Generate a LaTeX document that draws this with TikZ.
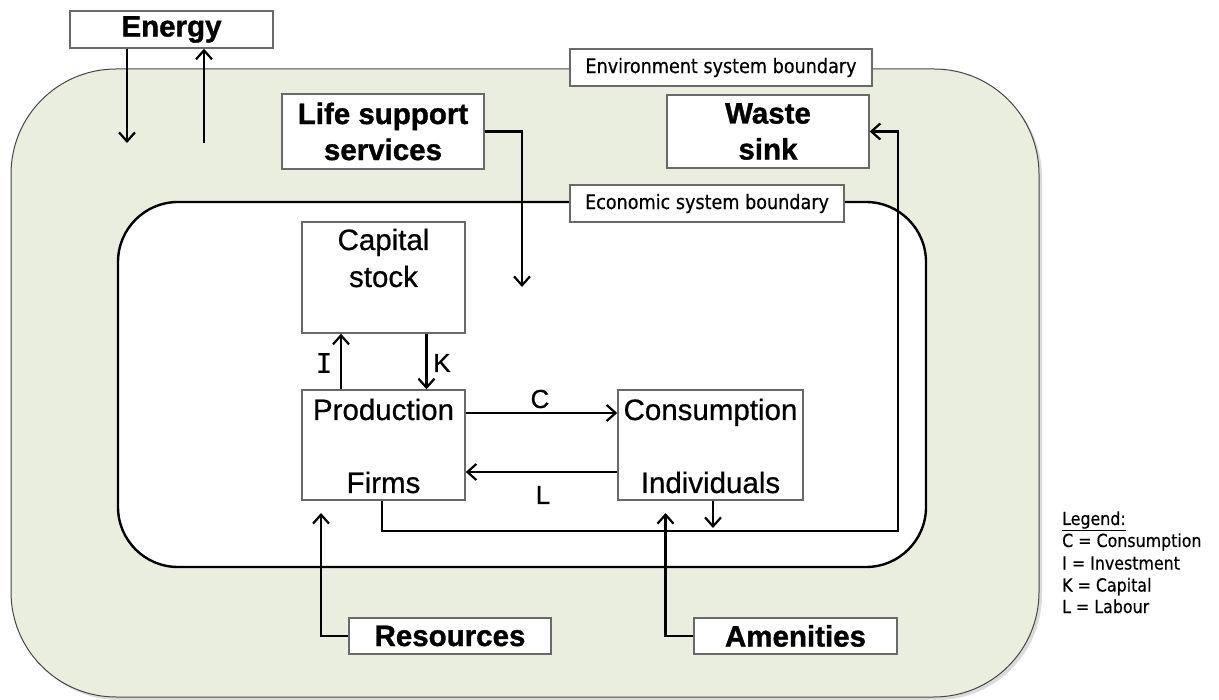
\documentclass[tikz,border=0pt]{standalone}
\usepackage{fontspec}
\setmainfont{Liberation Sans}[UprightFeatures={FakeBold=0.6}, BoldFeatures={FakeBold=1.2}]
\newfontfamily\tahomalike{DejaVu Sans}[FakeStretch=0.88, FakeBold=0.5]
\newfontfamily\monoi{DejaVu Sans Mono}[FakeBold=0.6]
\usetikzlibrary{arrows.meta}

\definecolor{envfill}{RGB}{234,238,222}
\definecolor{boxline}{RGB}{105,105,105}
\definecolor{envline}{RGB}{70,70,70}

\tikzset{
  big/.style={font=\fontsize{29.5}{36}\selectfont},
  bigb/.style={font=\bfseries\fontsize{29.5}{36}\selectfont, align=center},
  tagbox/.style={draw=boxline, line width=1.4pt, fill=white, inner sep=0pt},
  sectbox/.style={tagbox, font=\tahomalike\fontsize{20}{24}\selectfont},
  flow/.style={draw=black, line width=2.2pt, -{Straight Barb[length=9pt,width=16pt]}},
  txt/.style={inner sep=0pt, anchor=base},
  flowlbl/.style={inner sep=0pt, font=\fontsize{26}{30}\selectfont},
  lg/.style={inner sep=0pt, anchor=base west, font=\tahomalike\fontsize{18}{22}\selectfont}
}

\begin{document}
\begin{tikzpicture}[x=1pt, y=-1pt]
\useasboundingbox (0,0) rectangle (1219,700);

% environment system (outer) and economic system (inner)
\fill[black!14, rounded corners=105pt] (14,72) rectangle (1042,700);
\draw[envline, fill=envfill, line width=1pt, rounded corners=105pt] (11,69) rectangle (1039,697);
\draw[black, fill=white, line width=2.4pt, rounded corners=60pt] (118,202) rectangle (926,567);

% boundary tags
\node[sectbox, minimum width=302pt, minimum height=37pt] (envtag) at (721,67.5) {Environment system boundary};
\node[sectbox, minimum width=274pt, minimum height=37pt] (ecotag) at (707,203.5) {Economic system boundary};

% outer boxes
\node[tagbox, bigb, minimum width=203pt, minimum height=37pt] (energy) at (171.5,29.5) {Energy};
\node[tagbox, bigb, minimum width=202pt, minimum height=75pt] (life) at (383,131.5) {Life support\\services};
\node[tagbox, bigb, minimum width=202pt, minimum height=73pt] (waste) at (768,131.5) {Waste\\sink};
\node[tagbox, bigb, minimum width=202pt, minimum height=36pt] (res) at (450,636) {Resources};
\node[tagbox, bigb, minimum width=203pt, minimum height=36pt] (amen) at (795.5,636) {Amenities};

% economy boxes
\node[tagbox, minimum width=163pt, minimum height=111pt] (cap) at (383.5,277.5) {};
\node[txt, big] (capa) at (383.5,250) {Capital};
\node[txt, big] (capb) at (383.5,287) {stock};

\node[tagbox, minimum width=163pt, minimum height=110pt] (prod) at (383.5,445) {};
\node[txt, big] (proda) at (383.5,420) {Production};
\node[txt, big] (prodb) at (383.5,493) {Firms};

\node[tagbox, minimum width=185pt, minimum height=110pt] (cons) at (710.5,445) {};
\node[txt, big] (consa) at (710.5,420) {Consumption};
\node[txt, big] (consb) at (710.5,493) {Individuals};

% connector anchors
\coordinate (ein) at (127,143);
\coordinate (eout) at (204,143);
\coordinate (lifein) at (522,287);
\coordinate (ix) at (341,0);
\coordinate (kx) at (426.5,0);
\coordinate (cy) at (0,413);
\coordinate (ly) at (0,472);
\coordinate (wasteturn) at (898,531);
\coordinate (indout) at (713,528);
\coordinate (resin) at (321,513);
\coordinate (amenin) at (665.5,513);

% flows
\draw[flow] (energy.south -| ein) -- (ein);
\draw[flow] (eout) -- (eout |- energy.south);
\draw[flow] (life.east) -| (lifein);
\draw[flow] (prod.north -| ix) -- (cap.south -| ix);
\draw[flow] (cap.south -| kx) -- (prod.north -| kx);
\draw[flow] (prod.east |- cy) -- (cons.west |- cy);
\draw[flow] (cons.west |- ly) -- (prod.east |- ly);
\draw[flow] (cons.south -| indout) -- (indout);
\draw[flow] (prod.south -| 382,0) |- (wasteturn) |- (waste.east);
\draw[flow] (res.west) -| (resin);
\draw[flow] (amen.west) -| (amenin);

% flow labels
\node[flowlbl, font=\monoi\fontsize{27}{30}\selectfont] (lblI) at (324,363) {I};
\node[flowlbl] (lblK) at (442,363) {K};
\node[flowlbl] (lblC) at (540,399) {C};
\node[flowlbl] (lblL) at (543,495) {L};

% legend
\node[lg] (lg0) at (1062,525) {\underline{Legend:}};
\node[lg] (lg1) at (1062,547) {C = Consumption};
\node[lg] (lg2) at (1062,569.5) {I = Investment};
\node[lg] (lg3) at (1062,591.5) {K = Capital};
\node[lg] (lg4) at (1062,613) {L = Labour};
\end{tikzpicture}
\end{document}
